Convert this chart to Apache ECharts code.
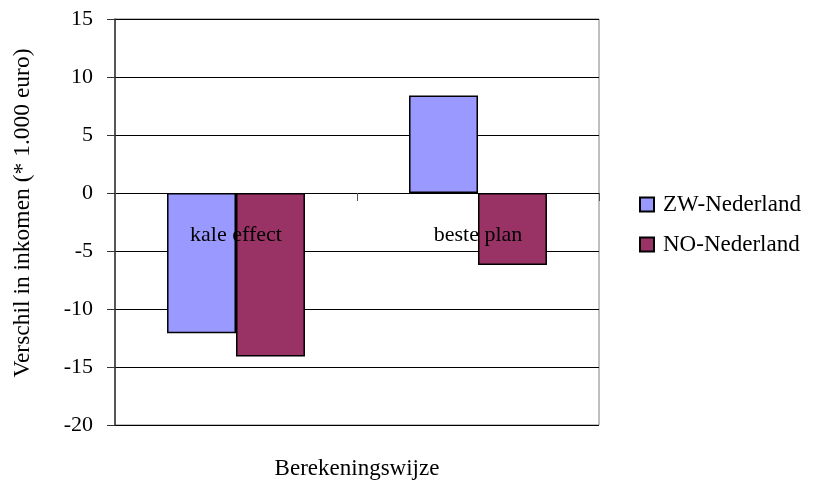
<!DOCTYPE html>
<html>
<head>
<meta charset="utf-8">
<script src="https://cdn.jsdelivr.net/npm/echarts@6/dist/echarts.min.js"></script>
<style>html,body{margin:0;padding:0;background:#fff}#c{width:817px;height:483px}</style>
</head>
<body>
<div id="c"></div>
<script>
var categories = ['kale effect', 'beste plan'];
var zwValues = [-12.1, 8.4];
var noValues = [-14.1, -6.2];
var seriesNames = ['ZW-Nederland', 'NO-Nederland'];
var yTitle = 'Verschil in inkomen (* 1.000 euro)';
var xTitle = 'Berekeningswijze';

var FONT = '"Liberation Serif", "Times New Roman", serif';
var chart = echarts.init(document.getElementById('c'), null, {renderer: 'canvas'});
chart.setOption({
  animation: false,
  textStyle: {fontFamily: FONT, color: '#000'},
  grid: {left: 115, right: 218, top: 19, bottom: 58, containLabel: false, outerBoundsMode: 'none',
         show: true, borderColor: '#808080', borderWidth: 1, backgroundColor: 'transparent'},
  legend: {
    orient: 'vertical', left: 634, top: 188, itemWidth: 14, itemHeight: 14, itemGap: 17,
    icon: 'rect',
    textStyle: {fontFamily: FONT, fontSize: 23, color: '#000', padding: [0, 0, 0, 4]},
    data: seriesNames
  },
  xAxis: {
    type: 'category', data: categories,
    axisLine: {onZero: true, lineStyle: {color: '#000', width: 1}},
    axisTick: {show: true, length: 8, lineStyle: {color: '#555'}},
    axisLabel: {margin: -201, fontFamily: FONT, fontSize: 22, color: '#000'},
    name: xTitle, nameLocation: 'middle', nameGap: 32,
    nameTextStyle: {fontFamily: FONT, fontSize: 23, color: '#000'},
    z: 10
  },
  yAxis: {
    type: 'value', min: -20, max: 15, interval: 5,
    axisLine: {show: true, lineStyle: {color: '#333', width: 1.5}},
    axisTick: {show: true, length: 8, lineStyle: {color: '#333'}},
    axisLabel: {margin: 22, fontFamily: FONT, fontSize: 22, color: '#000'},
    splitLine: {show: true, lineStyle: {color: '#000', width: 1}},
    name: yTitle, nameLocation: 'middle', nameGap: 80,
    nameTextStyle: {fontFamily: FONT, fontSize: 23.5, color: '#000', padding: [0, 0, 0, 18]}
  },
  series: [
    {name: seriesNames[0], type: 'bar', data: zwValues, barGap: '0%', barCategoryGap: '43%',
     itemStyle: {color: '#9999FF', borderColor: '#000', borderWidth: 1.5}},
    {name: seriesNames[1], type: 'bar', data: noValues,
     itemStyle: {color: '#993366', borderColor: '#000', borderWidth: 1.5}}
  ]
});
</script>
</body>
</html>
